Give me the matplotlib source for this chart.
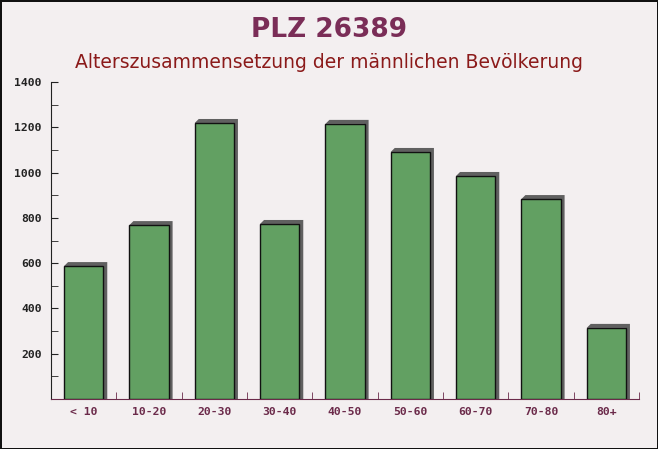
import numpy as np
import matplotlib.pyplot as plt
import matplotlib.patches as mpatches

# Data
age_groups = ['< 10', '10-20', '20-30', '30-40', '40-50', '50-60', '60-70', '70-80', '80+']
male_count = [587, 768, 1219, 773, 1215, 1091, 985, 883, 314]
y_ticks = [200, 400, 600, 800, 1000, 1200, 1400]

title = 'PLZ 26389'
subtitle = 'Alterszusammensetzung der männlichen Bevölkerung'

bar_color = '#62a062'
shadow_color = '#606060'
bg_color = '#f3eff0'

fig = plt.figure(figsize=(6.58, 4.49), dpi=100)
fig.patch.set_facecolor(bg_color)
fig.patch.set_edgecolor('#111111')
fig.patch.set_linewidth(1.0)

ax = fig.add_axes([51/658, 1 - 399/449, 588/658, 317/449])
ax.set_facecolor('none')

x = np.arange(len(age_groups))
w = 0.6
# shadow (3D look) offset in pixels converted to data units
dx = 4 / 65.3
dy = 4 / 317 * 1400
for xi, v in zip(x, male_count):
    poly = mpatches.Polygon([(xi - w/2, v), (xi - w/2 + dx, v + dy), (xi + w/2 + dx, v + dy),
                             (xi + w/2 + dx, 0), (xi + w/2, 0), (xi + w/2, v)],
                            closed=True, facecolor=shadow_color, edgecolor='none', zorder=2)
    ax.add_patch(poly)
ax.bar(x, male_count, width=w, color=bar_color, edgecolor='#111111', linewidth=1, zorder=3)

ax.set_xlim(-0.5, len(age_groups) - 0.5)
ax.set_ylim(0, 1400)
ax.set_yticks(y_ticks)
ax.set_yticks(np.arange(100, 1400, 100), minor=True)
ax.set_xticks(x)
ax.set_xticklabels(age_groups)
ax.set_xticks(np.arange(-0.5, len(age_groups), 1), minor=True)

for s in ['top', 'right']:
    ax.spines[s].set_visible(False)
ax.spines['left'].set_color('#222222')
ax.spines['bottom'].set_color('#6b2a4a')

ax.tick_params(axis='y', which='both', direction='in', length=5, color='#222222')
ax.tick_params(axis='y', which='major', labelsize=8.2, labelcolor='#222222', pad=6.5)
ax.tick_params(axis='x', which='major', length=0, labelsize=8.2, labelcolor='#6b2a4a', pad=6)
ax.tick_params(axis='x', which='minor', direction='in', length=5, color='#6b2a4a')
for lab in ax.get_yticklabels() + ax.get_xticklabels():
    lab.set_family('DejaVu Sans Mono')
    lab.set_fontweight('bold')

fig.text(0.5, 1 - 30/449, title, ha='center', va='center', fontsize=19, fontweight='bold', color='#7a2d57')
fig.text(0.5, 1 - 62/449, subtitle, ha='center', va='center', fontsize=13.5, color='#8b1a1a')

fig.savefig('out.png', dpi=100, facecolor=fig.get_facecolor(), edgecolor=fig.get_edgecolor())
